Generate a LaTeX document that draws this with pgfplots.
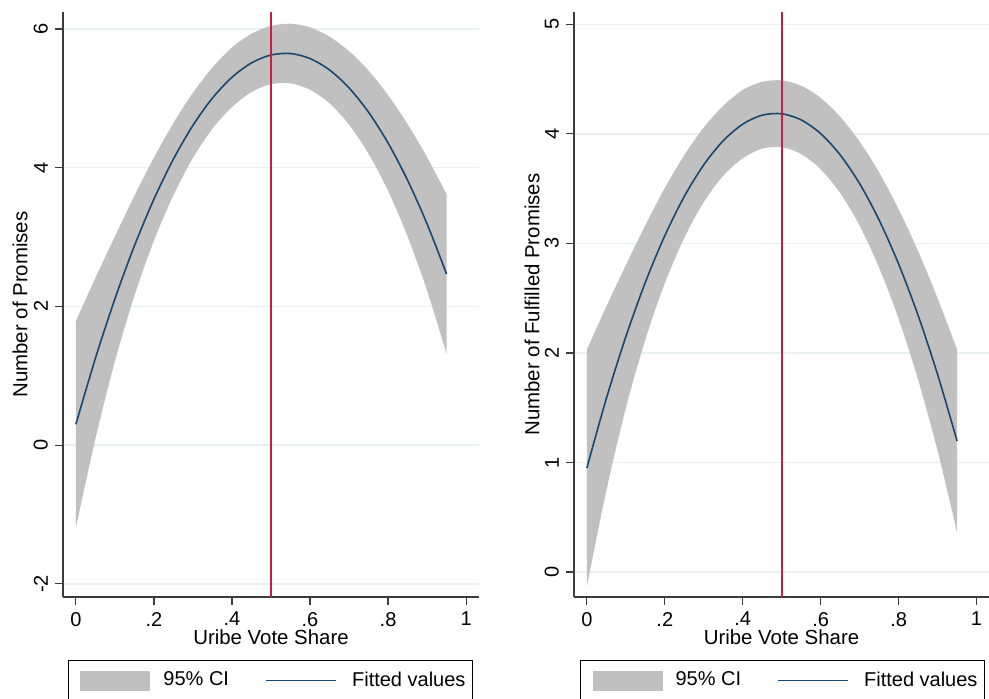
\documentclass[border=0pt]{standalone}
\usepackage{fontspec}
\setmainfont{Liberation Sans}
\usepackage{pgfplots}
\usepackage{pgfplotstable}
\pgfplotsset{compat=1.18}
\usepgfplotslibrary{fillbetween}
\definecolor{ciGray}{RGB}{192,192,192}
\definecolor{fitBlue}{RGB}{26,71,111}
\definecolor{vRed}{RGB}{200,30,70}
\definecolor{gridC}{RGB}{232,240,242}
\definecolor{axC}{RGB}{60,60,60}

\pgfplotstableread{
x lo fit up
0.00 -1.190 0.300 1.790
0.05 0.091 1.251 2.411
0.10 1.209 2.109 3.009
0.15 2.154 2.874 3.594
0.20 2.946 3.546 4.146
0.25 3.605 4.125 4.645
0.30 4.141 4.611 5.081
0.35 4.564 5.004 5.444
0.40 4.874 5.304 5.734
0.45 5.091 5.511 5.931
0.50 5.205 5.625 6.045
0.55 5.216 5.646 6.076
0.60 5.124 5.574 6.024
0.65 4.929 5.409 5.889
0.70 4.621 5.151 5.681
0.75 4.200 4.800 5.400
0.80 3.666 4.356 5.046
0.85 3.009 3.819 4.629
0.90 2.229 3.189 4.149
0.95 1.316 2.466 3.616
}\leftdata

\pgfplotstableread{
x lo fit up
0.00 -0.130 0.950 2.030
0.05 0.743 1.584 2.425
0.10 1.495 2.148 2.801
0.15 2.122 2.644 3.166
0.20 2.635 3.070 3.505
0.25 3.051 3.428 3.805
0.30 3.376 3.717 4.058
0.35 3.618 3.937 4.256
0.40 3.776 4.088 4.400
0.45 3.865 4.170 4.475
0.50 3.878 4.183 4.488
0.55 3.815 4.127 4.439
0.60 3.676 4.002 4.328
0.65 3.460 3.808 4.156
0.70 3.161 3.545 3.929
0.75 2.778 3.213 3.648
0.80 2.312 2.812 3.312
0.85 1.756 2.343 2.930
0.90 1.108 1.804 2.500
0.95 0.363 1.197 2.031
}\rightdata

\pgfplotsset{
  stataaxis/.style={
    scale only axis,
    height=292.5pt,
    axis x line*=bottom, axis y line*=left,
    axis line style={line width=0.6pt, color=axC, -},
    tick align=outside, major tick length=4pt,
    tick style={line width=0.6pt, color=axC},
    xmin=-0.033,
    xtick={0,0.2,0.4,0.6,0.8,1}, xticklabels={0,.2,.4,.6,.8,1},
    ymajorgrids, grid style={gridC, line width=0.7pt},
    /pgf/number format/assume math mode=true,
    ticklabel style={font=\fontsize{10}{12}\selectfont},
    yticklabel style={rotate=90, anchor=south},
    label style={font=\fontsize{10.2}{12}\selectfont},
    xlabel={Uribe Vote Share},
    xlabel style={at={(axis description cs:0.5,-0.0684)}, anchor=center},
    legend columns=2,
    legend cell align=left,
    legend style={anchor=north west, draw=black, line width=0.5pt,
      inner xsep=6pt, inner ysep=5pt, column sep=0pt,
      nodes={inner sep=0pt, anchor=west},
      font=\fontsize{10}{12}\selectfont},
  },
  bandimg/.style={legend image code/.code={\fill[ciGray] (0pt,-5pt) rectangle (35pt,5pt);}},
  lineimg/.style={legend image code/.code={\draw[fitBlue, line width=0.8pt] (0pt,0pt) -- (35pt,0pt);}},
}

\begin{document}
\begin{tikzpicture}
\begin{axis}[stataaxis, at={(0pt,0pt)}, anchor=south west,
  width=208pt, xmax=1.033,
  ymin=-2.19, ymax=6.245,
  ytick={-2,0,2,4,6}, yticklabels={-2,0,2,4,6},
  ylabel={Number of Promises},
  ylabel style={at={(axis description cs:-0.1034,0.5)}, anchor=center, rotate=0},
  legend style={at={(axis description cs:0.012,-0.1077)}},
]
\addplot[draw=none, name path=lup, smooth, forget plot] table[x=x, y=up] {\leftdata};
\addplot[draw=none, name path=llo, smooth, forget plot] table[x=x, y=lo] {\leftdata};
\addplot[fill=ciGray, draw=none, bandimg] fill between[of=lup and llo];
\addlegendentry{\hspace{6.5pt}\makebox[51pt][l]{95\% CI}}
\addplot[fitBlue, line width=0.8pt, smooth, no markers, lineimg] table[x=x, y=fit] {\leftdata};
\addlegendentry{\hspace{7.5pt}\makebox[54pt][l]{Fitted values}}
\addplot[vRed, line width=1pt, no markers, forget plot] coordinates {(0.5,-2.19) (0.5,6.245)};
\end{axis}

\begin{axis}[stataaxis, at={(255.5pt,0pt)}, anchor=south west,
  width=207.5pt, xmax=1.032,
  ymin=-0.228, ymax=5.112,
  ytick={0,1,2,3,4,5}, yticklabels={0,1,2,3,4,5},
  ylabel={Number of Fulfilled Promises},
  ylabel style={at={(axis description cs:-0.101,0.5)}, anchor=center, rotate=0},
  legend style={at={(axis description cs:0.0145,-0.1077)}},
]
\addplot[draw=none, name path=rup, smooth, forget plot] table[x=x, y=up] {\rightdata};
\addplot[draw=none, name path=rlo, smooth, forget plot] table[x=x, y=lo] {\rightdata};
\addplot[fill=ciGray, draw=none, bandimg] fill between[of=rup and rlo];
\addlegendentry{\hspace{6.5pt}\makebox[51pt][l]{95\% CI}}
\addplot[fitBlue, line width=0.8pt, smooth, no markers, lineimg] table[x=x, y=fit] {\rightdata};
\addlegendentry{\hspace{7.5pt}\makebox[54pt][l]{Fitted values}}
\addplot[vRed, line width=1pt, no markers, forget plot] coordinates {(0.5,-0.228) (0.5,5.112)};
\end{axis}
\pgfresetboundingbox
\useasboundingbox (-31.5pt,-50.5pt) rectangle (463pt,298.5pt);
\end{tikzpicture}
\end{document}
